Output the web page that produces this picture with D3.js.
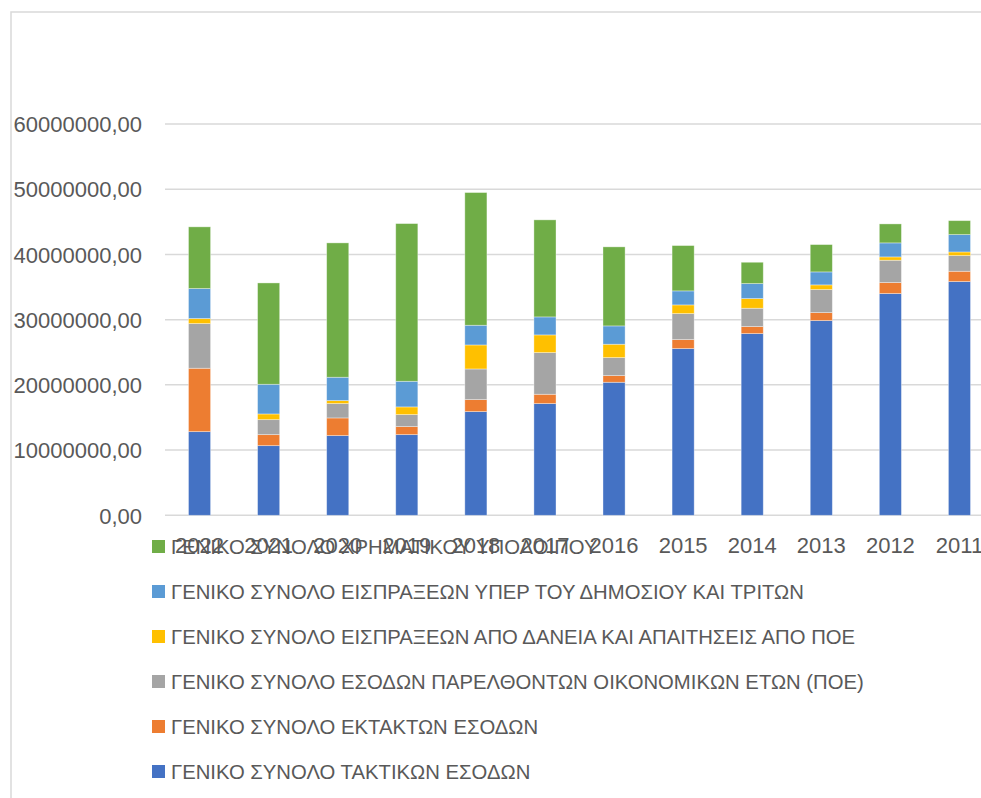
<!DOCTYPE html>
<html lang="el">
<head>
<meta charset="UTF-8"/>
<title>Σύνολα εσόδων ανά έτος</title>
<script src="https://d3js.org/d3.v7.min.js"></script>
<style>
    body { margin: 0; background: #fff; overflow: hidden; }
    text { font-family: "Liberation Sans", Arial, sans-serif; fill: #595959; }
</style>
</head>
<body>
<div id="chart"></div>
<script>
    let width = 981;
    let height = 798;

    // years, as shown left to right
    var years = ["2022", "2021", "2020", "2019", "2018", "2017", "2016", "2015", "2014", "2013", "2012", "2011"];

    // series values
    var taktika = [12830000, 10680000, 12220000, 12370000, 15900000, 17130000, 20400000, 25560000, 27860000, 29860000, 34000000, 35840000];
    var ektakta = [9720000, 1690000, 2710000, 1230000, 1840000, 1430000, 1020000, 1380000, 1080000, 1220000, 1690000, 1580000];
    var poe = [6850000, 2300000, 2200000, 1840000, 4700000, 6390000, 2760000, 3990000, 2810000, 3530000, 3420000, 2400000];
    var daneia = [770000, 870000, 460000, 1180000, 3680000, 2710000, 2050000, 1330000, 1480000, 720000, 510000, 560000];
    var dimosio = [4600000, 4550000, 3580000, 3930000, 3020000, 2760000, 2810000, 2150000, 2300000, 1990000, 2150000, 2660000];
    var ypoloipo = [9460000, 15540000, 20600000, 24180000, 20350000, 14880000, 12120000, 6950000, 3270000, 4190000, 2910000, 2140000];

    var yTicks = [0, 10000000, 20000000, 30000000, 40000000, 50000000, 60000000];

    // stack order bottom -> top
    var seriesNames = [
        "ΓΕΝΙΚΟ ΣΥΝΟΛΟ ΤΑΚΤΙΚΩΝ ΕΣΟΔΩΝ",
        "ΓΕΝΙΚΟ ΣΥΝΟΛΟ ΕΚΤΑΚΤΩΝ ΕΣΟΔΩΝ",
        "ΓΕΝΙΚΟ ΣΥΝΟΛΟ ΕΣΟΔΩΝ ΠΑΡΕΛΘΟΝΤΩΝ ΟΙΚΟΝΟΜΙΚΩΝ ΕΤΩΝ (ΠΟΕ)",
        "ΓΕΝΙΚΟ ΣΥΝΟΛΟ ΕΙΣΠΡΑΞΕΩΝ ΑΠΟ ΔΑΝΕΙΑ ΚΑΙ ΑΠΑΙΤΗΣΕΙΣ ΑΠΟ ΠΟΕ",
        "ΓΕΝΙΚΟ ΣΥΝΟΛΟ ΕΙΣΠΡΑΞΕΩΝ ΥΠΕΡ ΤΟΥ ΔΗΜΟΣΙΟΥ ΚΑΙ ΤΡΙΤΩΝ",
        "ΓΕΝΙΚΟ ΣΥΝΟΛΟ ΧΡΗΜΑΤΙΚΟΥ ΥΠΟΛΟΙΠΟΥ"
    ];
    var seriesValues = [taktika, ektakta, poe, daneia, dimosio, ypoloipo];
    var colors = ["#4472C4", "#ED7D31", "#A5A5A5", "#FFC000", "#5B9BD5", "#70AD47"];

    // build rows for d3.stack
    var rows = years.map(function (y, i) {
        var r = {year: y};
        seriesNames.forEach(function (s, k) { r[s] = seriesValues[k][i]; });
        return r;
    });
    var stacked = d3.stack().keys(seriesNames)(rows);

    var xScale = d3.scaleBand().domain(years).range([165, 994]).paddingInner(0.68).paddingOuter(0.34);
    var yScale = d3.scaleLinear().domain([0, 60000000]).range([515.3, 124]);

    var svg = d3.select("#chart").append("svg").attr("width", width).attr("height", height);

    // outer chart border (runs off the page on the right and bottom)
    svg.append("rect").attr("x", 11).attr("y", 12).attr("width", 1000).attr("height", 820)
        .attr("fill", "none").attr("stroke", "#D9D9D9").attr("stroke-width", 1.5);

    // gridlines
    svg.append("g").selectAll("line").data(yTicks).enter().append("line")
        .attr("x1", 165).attr("x2", 994)
        .attr("y1", function (d) { return yScale(d); })
        .attr("y2", function (d) { return yScale(d); })
        .attr("stroke", "#D9D9D9").attr("stroke-width", 1.5);

    // y axis labels
    var yAxis = d3.axisLeft(yScale).tickValues(yTicks).tickSize(0).tickPadding(0)
        .tickFormat(function (d) { return d3.format("d")(d) + ",00"; });
    var gy = svg.append("g").attr("transform", "translate(142,0)").call(yAxis);
    gy.select(".domain").remove();
    gy.selectAll("text").attr("font-size", 22).attr("font-family", null).attr("fill", "#595959").attr("dy", "0.35em");

    // bars
    svg.append("g").selectAll("g").data(stacked).enter().append("g")
        .attr("fill", function (d, i) { return colors[i]; })
        .selectAll("rect").data(function (d) { return d; }).enter().append("rect")
        .attr("x", function (d) { return xScale(d.data.year); })
        .attr("width", xScale.bandwidth())
        .attr("y", function (d) { return yScale(d[1]); })
        .attr("height", function (d) { return yScale(d[0]) - yScale(d[1]); })
        .attr("stroke", "#ffffff").attr("stroke-opacity", 0.45).attr("stroke-width", 0.8);

    // x axis labels
    var xAxis = d3.axisBottom(xScale).tickSize(0).tickPadding(0);
    var gx = svg.append("g").attr("transform", "translate(0,553)").call(xAxis);
    gx.select(".domain").remove();
    gx.selectAll("text").attr("font-size", 22).attr("font-family", null).attr("fill", "#595959").attr("dy", 0);

    // legend, top row is the last series
    var legendOrder = d3.range(seriesNames.length).reverse();
    var legend = svg.append("g").selectAll("g").data(legendOrder).enter().append("g")
        .attr("transform", function (d, i) { return "translate(152," + (546.5 + i * 45) + ")"; });
    legend.append("rect").attr("x", 0).attr("y", -6.5).attr("width", 13).attr("height", 13)
        .attr("fill", function (d) { return colors[d]; });
    legend.append("text").attr("x", 19).attr("y", 0).attr("dy", "0.35em").attr("font-size", 20.3)
        .text(function (d) { return seriesNames[d]; });
</script>
</body>
</html>
